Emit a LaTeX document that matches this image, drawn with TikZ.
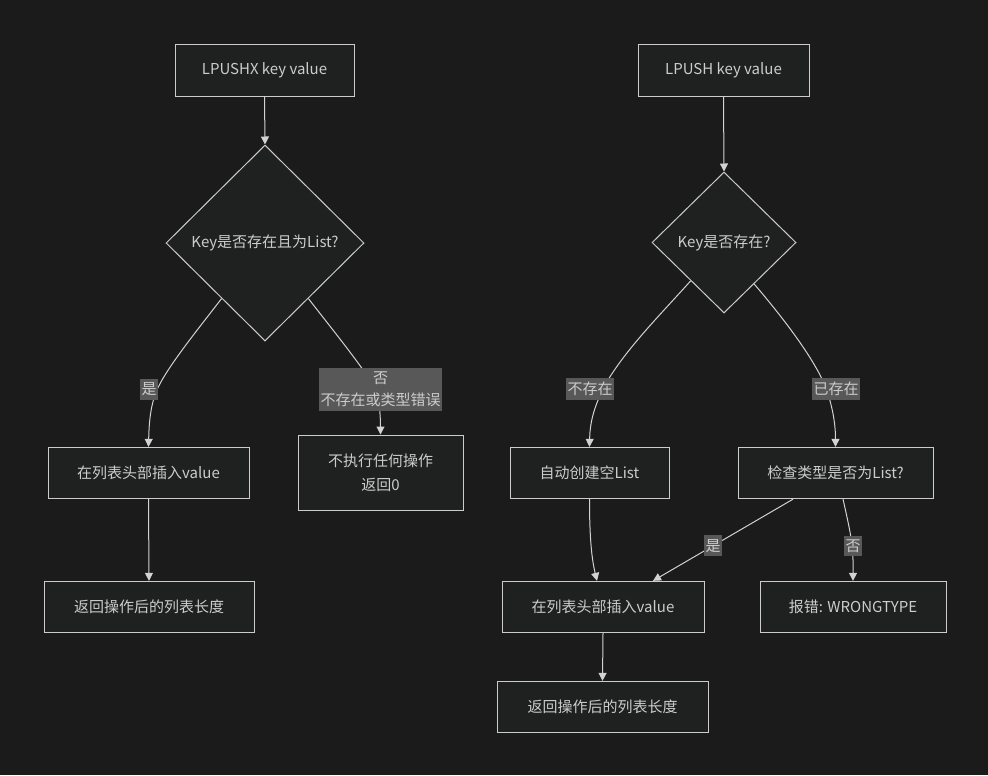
\documentclass[tikz,border=0pt]{standalone}
\usepackage{fontspec}
\setmainfont{Noto Sans CJK SC}
\usetikzlibrary{arrows.meta,calc,shapes.geometric}
\definecolor{bgdark}{HTML}{1B1B1B}
\definecolor{nodefill}{HTML}{1F2020}
\definecolor{nodeline}{HTML}{CCCCCC}
\definecolor{txt}{HTML}{CCCCCC}
\definecolor{lblfill}{HTML}{585858}
\definecolor{edgeline}{HTML}{D3D3D3}
\tikzset{
  box/.style={draw=nodeline, fill=nodefill, text=txt, line width=0.75pt,
    minimum height=38.5pt, align=center, inner sep=0pt},
  decision/.style={diamond, aspect=1, draw=nodeline, fill=nodefill, text=txt,
    line width=0.75pt, inner sep=0pt},
  elabel/.style={fill=lblfill, text=txt, inner xsep=1pt, inner ysep=3pt, align=center},
  arr/.style={draw=edgeline, line width=0.75pt, -{Triangle[length=6pt,width=6pt]}}
}

\begin{document}
\begin{tikzpicture}[x=0.75pt, y=-0.75pt, font=\fontsize{11.25}{16.5}\selectfont]
  \fill[bgdark] (0,0) rectangle (988,775);
  \useasboundingbox (0,0) rectangle (988,775);

  % LPUSHX
  \node[box, minimum width=134.25pt] (pushx) at (264.5,70.5) {LPUSHX key value};
  \node[decision, minimum width=148.5pt, minimum height=147pt] (existlist) at (265,243) {Key是否存在且为List?};
  \node[box, minimum width=150.75pt] (insertl) at (148.5,473) {在列表头部插入value};
  \node[box, minimum width=123.75pt, minimum height=56.25pt, font=\fontsize{11.25}{18}\selectfont] (noop) at (380.5,472.5) {不执行任何操作\\返回0};
  \node[box, minimum width=157.5pt] (lenl) at (149,607) {返回操作后的列表长度};

  % LPUSH
  \node[box, minimum width=128.25pt] (push) at (723.5,70.5) {LPUSH key value};
  \node[decision, minimum width=108pt, minimum height=105.75pt] (exist) at (724,242.5) {Key是否存在?};
  \node[box, minimum width=119.25pt] (create) at (589.5,473) {自动创建空List};
  \node[box, minimum width=146.25pt] (check) at (835.5,473) {检查类型是否为List?};
  \node[box, minimum width=151.5pt] (insertr) at (603,607) {在列表头部插入value};
  \node[box, minimum width=139.5pt] (wrong) at (853,607) {报错: WRONGTYPE};
  \node[box, minimum width=158.25pt] (lenr) at (602.5,707) {返回操作后的列表长度};

  % edges, left
  \draw[arr] (pushx.south) -- (existlist.north);
  \draw[arr] (existlist.232) .. controls (195,333) and (165,370) .. (156,392)
    .. controls (150,408) and (149,425) .. (insertl.north)
    node[elabel] (lyes) at (149,389.5) {是};
  \draw[arr] (existlist.308) .. controls (335,333) and (372,378) .. (378,395)
    .. controls (380,410) and (380.5,420) .. (noop.north)
    node[elabel] (lno) at (380.5,389) {否\\不存在或类型错误};
  \draw[arr] (insertl.south) -- (lenl.north);

  % edges, right
  \draw[arr] (push.south) -- (exist.north);
  \draw[arr] (exist.229) .. controls (660,315) and (625,350) .. (605,385)
    .. controls (595,405) and (590,420) .. (create.north)
    node[elabel] (lmiss) at (590,389) {不存在};
  \draw[arr] (exist.306) .. controls (785,320) and (815,360) .. (826,388)
    .. controls (833,408) and (835.5,425) .. (check.north)
    node[elabel] (lhave) at (836,389) {已存在};
  \draw[arr] (create.south) .. controls (589.5,540) and (592,560) .. ($(insertr.north)+(-6,0)$);
  \draw[arr] ($(check.south)+(-42.5,0)$) -- ($(insertr.north)+(50,0)$)
    node[elabel, pos=0.57] (lyes2) {是};
  \draw[arr] ($(check.south)+(7.5,0)$) .. controls (850,530) and (853,545) .. (853,560)
    -- (wrong.north) node[elabel] (lno2) at (853,546) {否};
  \draw[arr] (insertr.south) -- (lenr.north);
\end{tikzpicture}
\end{document}
